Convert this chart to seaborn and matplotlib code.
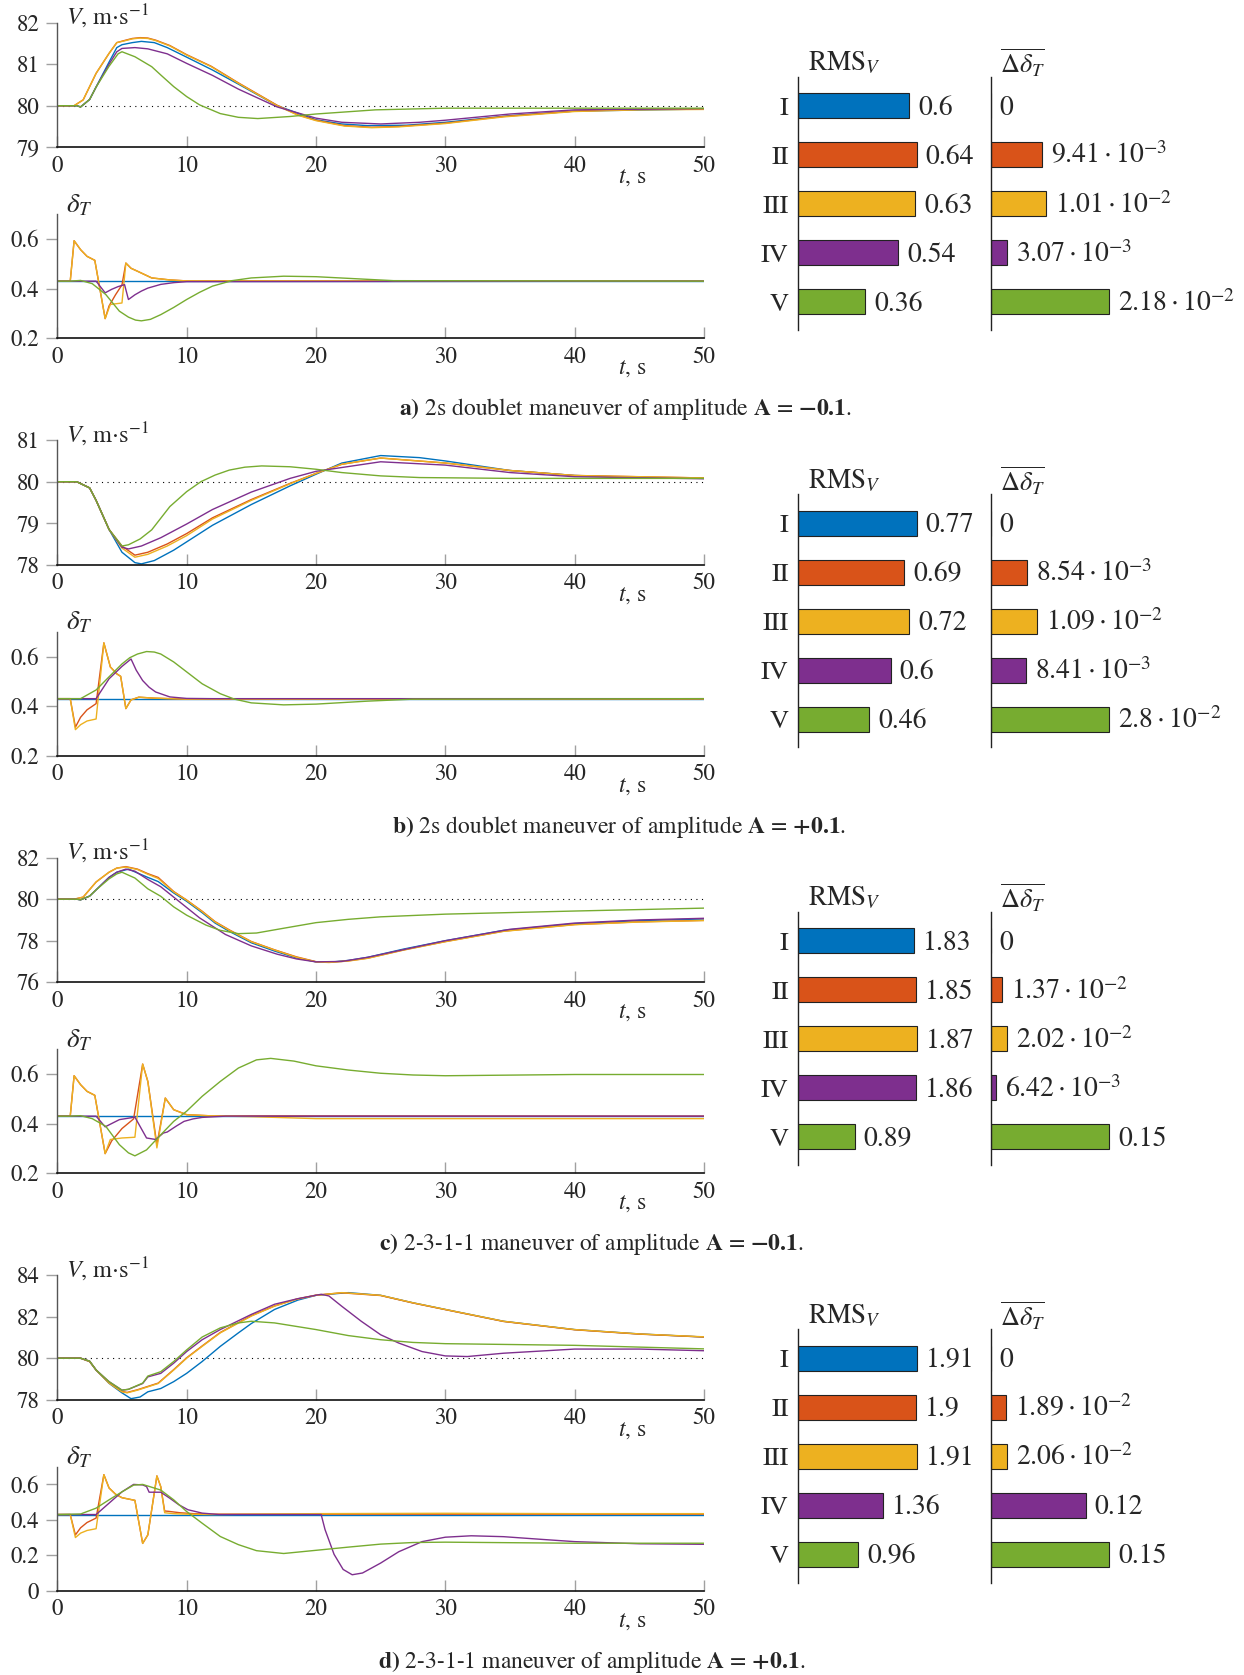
import matplotlib
matplotlib.use("Agg")
import matplotlib.pyplot as plt
import seaborn as sns

sns.set_style("ticks")
plt.rcParams['font.family'] = ['STIXGeneral', 'Liberation Serif', 'DejaVu Serif']
plt.rcParams['mathtext.fontset'] = 'stix'

W, H = 1244, 1675
STEP = 417.5

cats = ["I", "II", "III", "IV", "V"]
colors = {"I": "#0072BD", "II": "#D95319", "III": "#EDB120", "IV": "#7E2F8E", "V": "#77AC30"}

# ---------------- panel a: 2s doublet, A = -0.1 ----------------
V_a = {
    "I": ([0, 1.5, 1.8, 2.5, 3, 4, 4.6, 5.0, 5.8, 6.5, 7.5, 8.5, 10, 12, 14, 17, 20, 22, 24, 27, 30, 35, 40, 50],
          [80, 80, 79.97, 80.15, 80.45, 81.05, 81.4, 81.47, 81.52, 81.55, 81.52, 81.4, 81.17, 80.86, 80.52, 80.0, 79.66, 79.56, 79.52, 79.53, 79.6, 79.76, 79.87, 79.92]),
    "II": ([0, 1.3, 2.0, 3.0, 4.0, 4.6, 5.3, 5.8, 6.4, 7.0, 7.6, 8.7, 10, 11.9, 14, 16, 17, 18.6, 20, 22.2, 24.3, 26.4, 30, 34.5, 40, 45, 50],
           [80, 80, 80.14, 80.78, 81.26, 81.52, 81.58, 81.62, 81.64, 81.63, 81.58, 81.45, 81.23, 80.95, 80.55, 80.19, 80.01, 79.78, 79.65, 79.52, 79.48, 79.5, 79.58, 79.74, 79.87, 79.91, 79.92]),
    "III": ([0, 1.3, 2.0, 3.0, 4.0, 4.6, 5.3, 5.8, 6.4, 7.0, 7.6, 8.7, 10, 11.9, 14, 16, 17, 18.6, 20, 22.2, 24.3, 26.4, 30, 34.5, 40, 45, 50],
            [80, 80, 80.14, 80.78, 81.26, 81.52, 81.57, 81.61, 81.63, 81.62, 81.57, 81.44, 81.22, 80.94, 80.54, 80.18, 80.0, 79.77, 79.64, 79.51, 79.47, 79.49, 79.57, 79.73, 79.86, 79.9, 79.91]),
    "IV": ([0, 1.5, 1.8, 2.5, 3, 4, 4.6, 5.0, 6.0, 7.0, 8.5, 10, 12, 14, 17, 20, 22, 25, 28, 30, 35, 40, 50],
           [80, 80, 79.97, 80.15, 80.45, 81.0, 81.3, 81.38, 81.4, 81.37, 81.25, 81.02, 80.73, 80.4, 79.97, 79.7, 79.6, 79.56, 79.6, 79.65, 79.8, 79.9, 79.93]),
    "V": ([0, 1.5, 1.8, 2.5, 3, 4, 4.7, 5.0, 6.0, 7.3, 8, 9, 10, 11, 12.6, 14, 15.5, 18, 20, 24.6, 30, 50],
          [80, 80, 79.97, 80.15, 80.45, 80.95, 81.25, 81.3, 81.18, 80.94, 80.74, 80.46, 80.22, 80.02, 79.81, 79.72, 79.69, 79.74, 79.8, 79.9, 79.94, 79.94]),
}
D_a = {
    "I": ([0, 50], [0.43, 0.43]),
    "II": ([0, 1.0, 1.3, 1.8, 2.3, 2.9, 3.7, 4.0, 4.5, 5.0, 5.3, 5.7, 6.2, 7.3, 8.7, 10, 50],
           [0.43, 0.43, 0.593, 0.557, 0.53, 0.514, 0.279, 0.33, 0.375, 0.415, 0.503, 0.482, 0.47, 0.443, 0.435, 0.431, 0.43]),
    "III": ([0, 1.0, 1.3, 1.8, 2.3, 2.9, 3.7, 4.1, 5.0, 5.3, 5.7, 6.2, 7.3, 8.7, 10, 50],
            [0.43, 0.43, 0.593, 0.557, 0.53, 0.514, 0.279, 0.336, 0.342, 0.503, 0.482, 0.47, 0.443, 0.435, 0.431, 0.43]),
    "IV": ([0, 3.0, 3.7, 4.2, 4.7, 5.2, 5.5, 6.0, 6.5, 7.0, 8.0, 9.0, 10, 50],
           [0.43, 0.43, 0.383, 0.397, 0.408, 0.416, 0.356, 0.375, 0.39, 0.402, 0.417, 0.424, 0.428, 0.43]),
    "V": ([0, 1.0, 1.8, 2.7, 3.75, 4.8, 5.5, 6.05, 6.5, 7.2, 8, 9, 10, 11, 12, 13.5, 15, 17.5, 20, 23, 26, 50],
          [0.43, 0.43, 0.433, 0.42, 0.376, 0.309, 0.285, 0.273, 0.27, 0.276, 0.295, 0.324, 0.356, 0.385, 0.41, 0.432, 0.443, 0.45, 0.448, 0.44, 0.432, 0.43]),
}

# ---------------- panel b: 2s doublet, A = +0.1 ----------------
V_b = {
    "I": ([0, 1.5, 2.5, 3, 4, 5, 6, 6.5, 7.5, 9, 10, 12, 15, 18, 20, 22, 25, 28, 30, 35, 40, 45, 50],
          [80, 80, 79.85, 79.55, 78.85, 78.3, 78.05, 78.02, 78.1, 78.35, 78.55, 78.95, 79.45, 79.9, 80.18, 80.45, 80.63, 80.58, 80.5, 80.27, 80.15, 80.1, 80.08]),
    "II": ([0, 1.5, 2.5, 3, 4, 5, 6, 7, 8.5, 10, 12, 15, 18, 20, 22, 25, 30, 35, 40, 50],
           [80, 80, 79.85, 79.55, 78.85, 78.45, 78.23, 78.3, 78.5, 78.75, 79.13, 79.57, 79.96, 80.2, 80.42, 80.57, 80.45, 80.27, 80.15, 80.09]),
    "III": ([0, 1.5, 2.5, 3, 4, 5, 6, 7, 8.5, 10, 12, 15, 18, 20, 22, 25, 30, 35, 40, 50],
            [80, 80, 79.85, 79.55, 78.85, 78.4, 78.18, 78.25, 78.45, 78.7, 79.1, 79.55, 79.95, 80.2, 80.42, 80.57, 80.45, 80.27, 80.15, 80.09]),
    "IV": ([0, 1.5, 2.5, 3, 4, 5, 5.5, 6.5, 8, 10, 12, 15, 18, 20, 25, 30, 35, 40, 50],
           [80, 80, 79.85, 79.55, 78.85, 78.42, 78.38, 78.45, 78.65, 78.98, 79.33, 79.75, 80.08, 80.25, 80.48, 80.4, 80.22, 80.12, 80.07]),
    "V": ([0, 1.5, 2.5, 3, 4, 5, 5.5, 6.4, 7.3, 8.7, 10, 11.1, 12.2, 13.3, 14.5, 15.8, 18, 20, 22, 25, 28, 35, 50],
          [80, 80, 79.85, 79.55, 78.85, 78.45, 78.48, 78.62, 78.84, 79.4, 79.76, 80.0, 80.16, 80.28, 80.35, 80.38, 80.36, 80.3, 80.22, 80.14, 80.1, 80.08, 80.08]),
}
D_b = {
    "I": ([0, 50], [0.43, 0.43]),
    "II": ([0, 1.0, 1.4, 1.8, 2.3, 3.0, 3.6, 4.1, 4.6, 4.9, 5.3, 5.7, 6.3, 7.5, 10, 50],
           [0.43, 0.43, 0.315, 0.355, 0.385, 0.41, 0.655, 0.558, 0.53, 0.52, 0.39, 0.425, 0.436, 0.432, 0.428, 0.428]),
    "III": ([0, 1.0, 1.4, 1.8, 2.3, 3.0, 3.6, 4.1, 4.6, 4.9, 5.3, 5.7, 6.3, 7.5, 10, 50],
            [0.43, 0.43, 0.305, 0.325, 0.34, 0.348, 0.655, 0.558, 0.53, 0.52, 0.39, 0.425, 0.436, 0.432, 0.428, 0.428]),
    "IV": ([0, 3.0, 3.5, 4.0, 5.0, 5.7, 6.1, 6.6, 7.1, 7.6, 8.7, 10, 12, 50],
           [0.43, 0.43, 0.47, 0.51, 0.56, 0.59, 0.545, 0.503, 0.476, 0.457, 0.437, 0.431, 0.43, 0.43]),
    "V": ([0, 1.8, 3, 4, 5, 5.6, 6.2, 6.9, 7.5, 8, 9, 10, 11.2, 12.6, 13.7, 15, 17.5, 20, 24, 27.5, 50],
          [0.43, 0.43, 0.465, 0.518, 0.57, 0.595, 0.61, 0.62, 0.618, 0.61, 0.578, 0.538, 0.49, 0.45, 0.428, 0.413, 0.405, 0.408, 0.42, 0.428, 0.43]),
}

# ---------------- panel c: 2-3-1-1, A = -0.1 ----------------
V_c = {
    "I": ([0, 1.5, 1.8, 2.5, 3, 4, 4.6, 5.5, 7, 7.8, 9, 10, 11.2, 12.2, 13.3, 15, 16.8, 18.5, 20, 21, 22.5, 24, 26.8, 30, 34.5, 40, 45, 50],
          [80, 80, 79.97, 80.15, 80.45, 81.05, 81.3, 81.45, 81.05, 80.85, 80.3, 79.9, 79.35, 78.85, 78.45, 77.9, 77.5, 77.17, 76.98, 76.96, 77.05, 77.2, 77.6, 78.0, 78.5, 78.82, 78.97, 79.05]),
    "II": ([0, 1.3, 2, 3, 4, 4.6, 5.3, 6.2, 7, 7.8, 9, 10, 11.2, 12.2, 13.3, 15, 16.8, 18.5, 20, 21, 22.5, 24, 26.8, 30, 34.5, 40, 45, 50],
           [80, 80, 80.1, 80.83, 81.3, 81.5, 81.57, 81.45, 81.23, 81.05, 80.37, 79.96, 79.42, 78.92, 78.52, 77.96, 77.56, 77.22, 76.99, 76.96, 77.03, 77.16, 77.56, 77.96, 78.46, 78.78, 78.91, 78.98]),
    "III": ([0, 1.3, 2, 3, 4, 4.6, 5.3, 6.2, 7, 7.8, 9, 10, 11.2, 12.2, 13.3, 15, 16.8, 18.5, 20, 21, 22.5, 24, 26.8, 30, 34.5, 40, 45, 50],
            [80, 80, 80.1, 80.83, 81.3, 81.5, 81.55, 81.43, 81.2, 81.0, 80.35, 79.95, 79.4, 78.9, 78.5, 77.95, 77.55, 77.2, 76.98, 76.95, 77.02, 77.15, 77.55, 77.95, 78.45, 78.77, 78.9, 78.97]),
    "IV": ([0, 1.5, 1.8, 2.5, 3, 4, 4.6, 5.3, 6, 7, 8, 9, 10, 11, 12, 13, 15, 17, 18.5, 20, 22, 24, 27, 30, 35, 40, 45, 50],
           [80, 80, 79.97, 80.15, 80.45, 81.05, 81.3, 81.45, 81.35, 80.95, 80.6, 80.1, 79.6, 79.1, 78.7, 78.3, 77.75, 77.35, 77.12, 76.98, 77.0, 77.2, 77.6, 78.0, 78.55, 78.85, 79.0, 79.08]),
    "V": ([0, 1.5, 1.8, 2.5, 3, 4, 4.6, 5.0, 6, 7, 8, 9, 10, 11.5, 12.6, 14, 15.4, 17.5, 20, 22.5, 25, 30, 40, 50],
          [80, 80, 79.97, 80.15, 80.45, 80.98, 81.22, 81.3, 81.02, 80.5, 80.14, 79.63, 79.23, 78.75, 78.5, 78.34, 78.37, 78.6, 78.87, 79.03, 79.15, 79.28, 79.43, 79.57]),
}
D_c = {
    "I": ([0, 50], [0.43, 0.43]),
    "II": ([0, 1.0, 1.3, 1.8, 2.3, 2.9, 3.7, 4.2, 5.0, 5.9, 6.6, 7.0, 7.7, 8.35, 9, 10, 12, 50],
           [0.43, 0.43, 0.593, 0.557, 0.53, 0.514, 0.279, 0.33, 0.38, 0.419, 0.64, 0.57, 0.315, 0.503, 0.456, 0.436, 0.431, 0.43]),
    "III": ([0, 1.0, 1.3, 1.8, 2.3, 2.9, 3.7, 4.1, 5.0, 6.0, 6.6, 7.0, 7.7, 8.35, 9, 10, 12, 15, 20, 50],
            [0.43, 0.43, 0.593, 0.557, 0.53, 0.514, 0.279, 0.336, 0.342, 0.345, 0.64, 0.57, 0.302, 0.503, 0.456, 0.436, 0.431, 0.428, 0.42, 0.42]),
    "IV": ([0, 3.0, 3.7, 4.8, 6.0, 6.9, 7.6, 8.2, 8.5, 9.2, 9.8, 10.5, 11.2, 13, 50],
           [0.43, 0.43, 0.387, 0.416, 0.426, 0.342, 0.336, 0.362, 0.366, 0.39, 0.409, 0.419, 0.425, 0.43, 0.43]),
    "V": ([0, 1.0, 1.8, 2.7, 3.75, 4.8, 5.5, 6, 6.9, 8, 9, 10, 11.2, 12.6, 14, 15.4, 16.5, 18.3, 20, 22.5, 25, 27.5, 30, 40, 50],
          [0.43, 0.43, 0.432, 0.42, 0.389, 0.315, 0.282, 0.27, 0.294, 0.355, 0.409, 0.45, 0.51, 0.57, 0.624, 0.657, 0.663, 0.652, 0.633, 0.616, 0.603, 0.596, 0.593, 0.598, 0.598]),
}

# ---------------- panel d: 2-3-1-1, A = +0.1 ----------------
V_d = {
    "I": ([0, 1.8, 2.5, 3, 4, 5, 5.7, 6.4, 7, 8, 9, 10, 11.2, 12.6, 14, 15, 16.8, 18.6, 20, 22.5, 25, 27.5, 30, 34.5, 40, 45, 50],
          [80, 80, 79.84, 79.43, 78.79, 78.33, 78.05, 78.13, 78.38, 78.54, 78.87, 79.27, 79.84, 80.57, 81.22, 81.67, 82.35, 82.8, 83.03, 83.16, 83.03, 82.67, 82.35, 81.78, 81.38, 81.17, 81.02]),
    "II": ([0, 1.8, 2.5, 3, 4, 5, 5.4, 6.2, 7, 7.8, 9, 10, 11.2, 12.6, 15, 16.8, 18.5, 20, 22, 25, 27.5, 30, 34.5, 40, 45, 50],
           [80, 80, 79.84, 79.43, 78.82, 78.4, 78.35, 78.48, 78.64, 78.8, 79.45, 80.02, 80.59, 81.24, 82.05, 82.52, 82.85, 83.04, 83.15, 83.02, 82.66, 82.34, 81.77, 81.37, 81.16, 81.02]),
    "III": ([0, 1.8, 2.5, 3, 4, 5, 5.4, 6.2, 7, 7.8, 9, 10, 11.2, 12.6, 15, 16.8, 18.5, 20, 22, 25, 27.5, 30, 34.5, 40, 45, 50],
            [80, 80, 79.84, 79.43, 78.8, 78.38, 78.33, 78.46, 78.62, 78.78, 79.43, 80.0, 80.57, 81.22, 82.03, 82.51, 82.84, 83.03, 83.16, 83.03, 82.67, 82.35, 81.78, 81.38, 81.17, 81.03]),
    "IV": ([0, 1.8, 2.5, 3, 4, 5, 5.5, 6.6, 7, 8, 9, 10, 11.2, 12.6, 15, 16.8, 18.6, 20.4, 21, 22, 23.5, 25, 26.4, 28.2, 30, 31.7, 34.5, 40, 45, 50],
           [80, 80, 79.86, 79.43, 78.87, 78.46, 78.5, 78.78, 79.1, 79.27, 79.76, 80.32, 80.89, 81.38, 82.11, 82.6, 82.87, 83.08, 83.0, 82.5, 81.78, 81.13, 80.73, 80.32, 80.11, 80.08, 80.24, 80.44, 80.44, 80.36]),
    "V": ([0, 1.8, 2.5, 3, 4, 5, 5.5, 6.6, 7, 8, 9, 10, 11.2, 12.6, 14, 15, 16.8, 20, 22.5, 25, 27.5, 30, 40, 50],
          [80, 80, 79.86, 79.43, 78.87, 78.46, 78.5, 78.8, 79.14, 79.35, 79.84, 80.4, 81.02, 81.46, 81.7, 81.78, 81.7, 81.38, 81.09, 80.89, 80.76, 80.7, 80.62, 80.45]),
}
D_d = {
    "I": ([0, 50], [0.43, 0.43]),
    "II": ([0, 1.0, 1.4, 1.8, 2.3, 3.0, 3.6, 4.0, 4.5, 5.0, 6.0, 6.6, 7.0, 7.7, 8.0, 8.3, 8.6, 9.5, 10.5, 12, 50],
           [0.43, 0.43, 0.315, 0.355, 0.385, 0.41, 0.655, 0.58, 0.545, 0.525, 0.51, 0.267, 0.315, 0.648, 0.587, 0.45, 0.448, 0.44, 0.435, 0.432, 0.432]),
    "III": ([0, 1.0, 1.4, 1.8, 2.3, 3.0, 3.6, 4.0, 4.5, 5.0, 6.0, 6.6, 7.0, 7.7, 8.0, 8.3, 9, 10, 12, 20, 30, 40, 50],
            [0.43, 0.43, 0.30, 0.325, 0.34, 0.35, 0.655, 0.58, 0.545, 0.525, 0.51, 0.267, 0.315, 0.648, 0.587, 0.44, 0.435, 0.432, 0.43, 0.435, 0.437, 0.435, 0.435]),
    "IV": ([0, 3.0, 4, 5, 5.9, 6.6, 6.9, 7.1, 8, 8.7, 9.4, 10.1, 11.2, 12.5, 20.4, 20.7, 21.4, 22.1, 22.8, 23.6, 25, 26.4, 28.2, 30, 32, 34.5, 37.4, 40, 45, 50],
           [0.43, 0.43, 0.494, 0.558, 0.6, 0.597, 0.588, 0.556, 0.556, 0.522, 0.485, 0.457, 0.438, 0.43, 0.43, 0.345, 0.205, 0.12, 0.09, 0.10, 0.156, 0.22, 0.277, 0.302, 0.31, 0.305, 0.29, 0.277, 0.265, 0.262]),
    "V": ([0, 1.8, 3, 4, 5, 5.9, 6.6, 8, 9, 10, 11.2, 12.6, 14, 15.4, 17.5, 20, 22.5, 25, 27.5, 30, 40, 50],
          [0.43, 0.433, 0.466, 0.513, 0.558, 0.596, 0.6, 0.568, 0.513, 0.447, 0.381, 0.306, 0.26, 0.226, 0.21, 0.228, 0.246, 0.263, 0.272, 0.274, 0.268, 0.268]),
}

# ---------------- bar values and labels ----------------
rms_a = [0.6, 0.64, 0.63, 0.54, 0.36]
rms_b = [0.77, 0.69, 0.72, 0.6, 0.46]
rms_c = [1.83, 1.85, 1.87, 1.86, 0.89]
rms_d = [1.91, 1.9, 1.91, 1.36, 0.96]
dlt_a = [0, 9.41e-3, 1.01e-2, 3.07e-3, 2.18e-2]
dlt_b = [0, 8.54e-3, 1.09e-2, 8.41e-3, 2.8e-2]
dlt_c = [0, 1.37e-2, 2.02e-2, 6.42e-3, 0.15]
dlt_d = [0, 1.89e-2, 2.06e-2, 0.12, 0.15]
rms_lab_a = ["0.6", "0.64", "0.63", "0.54", "0.36"]
rms_lab_b = ["0.77", "0.69", "0.72", "0.6", "0.46"]
rms_lab_c = ["1.83", "1.85", "1.87", "1.86", "0.89"]
rms_lab_d = ["1.91", "1.9", "1.91", "1.36", "0.96"]
dlt_lab_a = ["0", r"$9.41\cdot10^{-3}$", r"$1.01\cdot10^{-2}$", r"$3.07\cdot10^{-3}$", r"$2.18\cdot10^{-2}$"]
dlt_lab_b = ["0", r"$8.54\cdot10^{-3}$", r"$1.09\cdot10^{-2}$", r"$8.41\cdot10^{-3}$", r"$2.8\cdot10^{-2}$"]
dlt_lab_c = ["0", r"$1.37\cdot10^{-2}$", r"$2.02\cdot10^{-2}$", r"$6.42\cdot10^{-3}$", "0.15"]
dlt_lab_d = ["0", r"$1.89\cdot10^{-2}$", r"$2.06\cdot10^{-2}$", "0.12", "0.15"]

captions = [
    r"$\mathbf{a)}$ 2s doublet maneuver of amplitude $\mathbf{A}$ = $\mathbf{-0.1}$.",
    r"$\mathbf{b)}$ 2s doublet maneuver of amplitude $\mathbf{A}$ = $\mathbf{+0.1}$.",
    r"$\mathbf{c)}$ 2-3-1-1 maneuver of amplitude $\mathbf{A}$ = $\mathbf{-0.1}$.",
    r"$\mathbf{d)}$ 2-3-1-1 maneuver of amplitude $\mathbf{A}$ = $\mathbf{+0.1}$.",
]
caption_x = [625, 619, 591, 592]

V_ylims = [(79, 82), (78, 81), (76, 82), (78, 84)]
V_ticks = [[79, 80, 81, 82], [78, 79, 80, 81], [76, 78, 80, 82], [78, 80, 82, 84]]
D_ylims = [(0.2, 0.7), (0.2, 0.7), (0.2, 0.7), (0, 0.7)]
D_ticks = [[0.2, 0.4, 0.6], [0.2, 0.4, 0.6], [0.2, 0.4, 0.6], [0, 0.2, 0.4, 0.6]]
D_ticklabels = [["0.2", "0.4", "0.6"]] * 3 + [["0", "0.2", "0.4", "0.6"]]

fig = plt.figure(figsize=(W / 100, H / 100), dpi=100)


def px_axes(left, top, width, height):
    return fig.add_axes([left / W, 1 - (top + height) / H, width / W, height / H])


def style_line_ax(ax, ylim, yticks, yticklabels):
    ax.set_xlim(0, 50)
    ax.set_ylim(*ylim)
    ax.set_xticks(range(0, 51, 10))
    ax.set_yticks(yticks)
    ax.set_yticklabels(yticklabels)
    ax.set_xlabel("")
    ax.set_ylabel("")
    for s in ["top", "right"]:
        ax.spines[s].set_visible(False)
    ax.spines["left"].set_color("#555555")
    ax.spines["bottom"].set_color("#111111")
    ax.spines["left"].set_linewidth(1.0)
    ax.spines["bottom"].set_linewidth(1.2)
    ax.tick_params(axis="x", direction="in", length=8, width=1, color="#a0a0a0", pad=6, labelsize=16.5)
    ax.tick_params(axis="y", direction="out", length=8, width=1, color="#a0a0a0", pad=5, labelsize=16.5)
    ax.annotate(r"$t$, s", xy=(0.889, 0), xycoords="axes fraction", xytext=(0, -22),
                textcoords="offset points", ha="center", va="center", fontsize=17)


def draw_lines(ax, series):
    for c in cats:
        t, v = series[c]
        sns.lineplot(x=t, y=v, ax=ax, color=colors[c], lw=1.0, sort=False, estimator=None)


def draw_bars(ax, vals, labels, width_px):
    sns.barplot(x=vals, y=cats, hue=cats, palette=colors, orient="h", legend=False, saturation=1,
                width=0.51, edgecolor="#222222", linewidth=0.8, ax=ax)
    ax.set_xlim(0, max(vals) * width_px / 118.5)
    ax.set_ylim(4.58, -0.59)
    for s in ["top", "right", "bottom"]:
        ax.spines[s].set_visible(False)
    ax.spines["left"].set_color("#222222")
    ax.spines["left"].set_linewidth(1.0)
    ax.set_xticks([])
    ax.set_xlabel("")
    ax.set_ylabel("")
    ax.tick_params(axis="y", length=0, pad=7, labelsize=19)
    for i, (v, lab) in enumerate(zip(vals, labels)):
        ax.annotate(lab, (v, i), xytext=(6.5, -6.6), textcoords="offset points",
                    ha="left", va="baseline", fontsize=20)


panels = [
    (V_a, D_a, rms_a, dlt_a, rms_lab_a, dlt_lab_a),
    (V_b, D_b, rms_b, dlt_b, rms_lab_b, dlt_lab_b),
    (V_c, D_c, rms_c, dlt_c, rms_lab_c, dlt_lab_c),
    (V_d, D_d, rms_d, dlt_d, rms_lab_d, dlt_lab_d),
]

for k, (Vs, Ds, rms, dlt, rms_lab, dlt_lab) in enumerate(panels):
    base = 22.7 + k * STEP

    # velocity
    axv = px_axes(57.3, base, 646.7, 124.5)
    axv.axhline(80, color="black", lw=0.8, ls=(0, (1, 4)), zorder=1)
    draw_lines(axv, Vs)
    style_line_ax(axv, V_ylims[k], V_ticks[k], [str(v) for v in V_ticks[k]])
    axv.annotate(r"$V$, m$\cdot$s$^{-1}$", xy=(0, 1), xycoords="axes fraction", xytext=(6.5, -1.7),
                 textcoords="offset points", ha="left", va="baseline", fontsize=17.5)

    # throttle
    axd = px_axes(57.3, base + 191.5, 646.7, 124)
    draw_lines(axd, Ds)
    style_line_ax(axd, D_ylims[k], D_ticks[k], D_ticklabels[k])
    axd.annotate(r"$\delta_T$", xy=(0, 1), xycoords="axes fraction", xytext=(6, 1.5),
                 textcoords="offset points", ha="left", va="baseline", fontsize=19.5)

    # bars
    axr = px_axes(798.3, base + 54, 175, 253.3)
    draw_bars(axr, rms, rms_lab, 175)
    axt = px_axes(990.7, base + 54, 210, 253.3)
    draw_bars(axt, dlt, dlt_lab, 210)
    axt.set_yticklabels([])

    fig.text(808 / W, 1 - (base + 48) / H, r"RMS$_V$", ha="left", va="baseline", fontsize=19.5)
    fig.text(1000 / W, 1 - (base + 50.6) / H, r"$\overline{\Delta\delta_T}$", ha="left",
             va="baseline", fontsize=19)

    fig.text(caption_x[k] / W, 1 - (base + 386.5) / H, captions[k], ha="center", va="center",
             fontsize=17)

fig.savefig("out.png", dpi=100)
